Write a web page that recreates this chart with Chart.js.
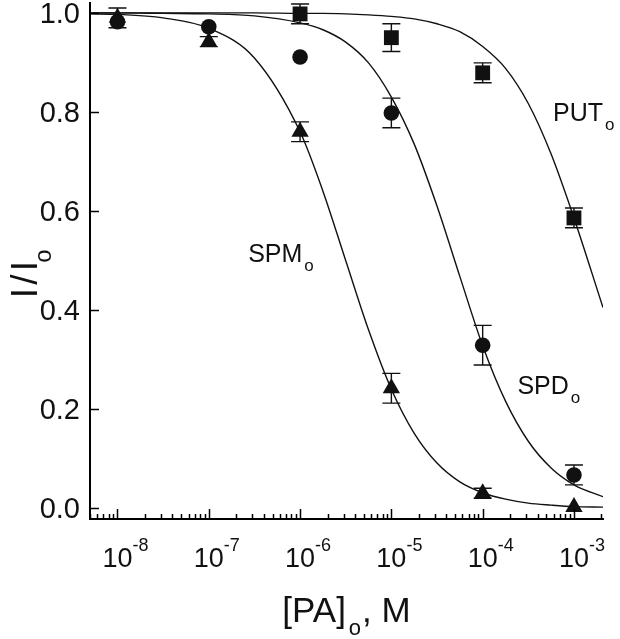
<!DOCTYPE html>
<html>
<head>
<meta charset="utf-8">
<script src="https://cdn.jsdelivr.net/npm/chart.js@4.4.0/dist/chart.umd.min.js"></script>
<style>
  html, body { margin: 0; padding: 0; background: #fff; }
</style>
</head>
<body>
<canvas id="myChart" width="620" height="639"></canvas>
<script>
// concentrations [PA]o (M)
var conc = [1e-8, 1e-7, 1e-6, 1e-5, 1e-4, 1e-3];
var putConc = [1e-6, 1e-5, 1e-4, 1e-3];

// measured I/Io with SEM
var spmVals = [0.990, 0.942, 0.760, 0.242, 0.030, 0.002];
var spmErr  = [0.020, 0.010, 0.020, 0.030, 0.010, 0];
var spdVals = [0.982, 0.972, 0.911, 0.798, 0.329, 0.067];
var spdErr  = [0, 0, 0, 0.030, 0.040, 0.020];
var putVals = [0.998, 0.950, 0.879, 0.586];
var putErr  = [0.020, 0.028, 0.020, 0.020];

// fitted curves
var curveX = [5e-9, 1e-8, 3.16e-8, 1e-7, 3.16e-7, 1e-6, 1.78e-6, 3.16e-6, 5.62e-6, 1e-5,
              1.78e-5, 3.16e-5, 5.62e-5, 1e-4, 1.78e-4, 3.16e-4, 5.62e-4, 1e-3, 2.08e-3];
var spmFit = [0.998, 0.997, 0.990, 0.969, 0.909, 0.760, 0.640, 0.500, 0.360, 0.240,
              0.151, 0.091, 0.053, 0.031, 0.018, 0.010, 0.006, 0.003, 0.002];
var spdFit = [1.000, 1.000, 0.999, 0.998, 0.994, 0.980, 0.966, 0.941, 0.899, 0.830,
              0.735, 0.610, 0.468, 0.328, 0.216, 0.135, 0.081, 0.047, 0.023];
var putFit = [1.000, 1.000, 1.000, 1.000, 1.000, 0.999, 0.999, 0.998, 0.996, 0.993,
              0.988, 0.978, 0.962, 0.932, 0.888, 0.817, 0.715, 0.586, 0.405];

// axis ticks
var yTicks = [0, 0.2, 0.4, 0.6, 0.8, 1.0];
var yTickLabels = ['0.0', '0.2', '0.4', '0.6', '0.8', '1.0'];
var xMajorExp = [-8, -7, -6, -5, -4, -3];

// labels on the curves
var curveLabels = [
  { text: 'SPM', x: 2.7e-7, y: 0.497 },
  { text: 'SPD', x: 2.4e-4, y: 0.230 },
  { text: 'PUT', x: 5.9e-4, y: 0.782 }
];

var FONT = 'Liberation Sans, Arial, Helvetica, sans-serif';
var INK = '#111';

function pts(xs, ys) {
  return xs.map(function(x, i) { return { x: x, y: ys[i] }; });
}

var decor = {
  id: 'decor',
  beforeDatasetsDraw: function(chart) {
    var ctx = chart.ctx, xs = chart.scales.x, ys = chart.scales.y;
    ctx.save();
    ctx.strokeStyle = INK;
    ctx.lineWidth = 1.4;
    [[conc, spmVals, spmErr], [conc, spdVals, spdErr], [putConc, putVals, putErr]].forEach(function(s) {
      s[0].forEach(function(c, i) {
        var e = s[2][i];
        if (!e) return;
        var px = xs.getPixelForValue(c);
        var y1 = ys.getPixelForValue(s[1][i] + e);
        var y2 = ys.getPixelForValue(s[1][i] - e);
        ctx.beginPath();
        ctx.moveTo(px, y1); ctx.lineTo(px, y2);
        ctx.moveTo(px - 9, y1); ctx.lineTo(px + 9, y1);
        ctx.moveTo(px - 9, y2); ctx.lineTo(px + 9, y2);
        ctx.stroke();
      });
    });
    ctx.restore();
  },
  afterDraw: function(chart) {
    var ctx = chart.ctx, xs = chart.scales.x, ys = chart.scales.y, a = chart.chartArea;
    ctx.save();
    ctx.strokeStyle = '#000';
    ctx.fillStyle = INK;

    // inward ticks on the log axis
    ctx.lineWidth = 1.5;
    for (var e = -9; e <= -3; e++) {
      for (var m = 1; m <= 9; m++) {
        var v = m * Math.pow(10, e);
        if (v < xs.min || v > xs.max) continue;
        var px = Math.round(xs.getPixelForValue(v)) + 0.5;
        ctx.beginPath();
        ctx.moveTo(px, a.bottom);
        ctx.lineTo(px, a.bottom - (m === 1 ? 10 : 5));
        ctx.stroke();
      }
    }
    // inward ticks and labels on y
    ctx.font = '29px ' + FONT;
    ctx.textAlign = 'right';
    ctx.textBaseline = 'middle';
    yTicks.forEach(function(t, i) {
      var py = Math.round(ys.getPixelForValue(t)) + 0.5;
      ctx.beginPath();
      ctx.moveTo(a.left, py);
      ctx.lineTo(a.left + 9, py);
      ctx.stroke();
      ctx.fillText(yTickLabels[i], a.left - 10, py + 1);
    });

    // x tick labels 10^n
    ctx.textBaseline = 'alphabetic';
    xMajorExp.forEach(function(n) {
      var px = xs.getPixelForValue(Math.pow(10, n));
      ctx.font = '27px ' + FONT;
      ctx.textAlign = 'center';
      var w = ctx.measureText('10').width;
      ctx.fillText('10', px, 567);
      ctx.font = '18px ' + FONT;
      ctx.textAlign = 'left';
      ctx.fillText('-' + Math.abs(n), px + w / 2, 551);
    });

    // x axis title: [PA]o, M
    ctx.textAlign = 'left';
    ctx.font = '35px ' + FONT;
    var w1 = ctx.measureText('[PA]').width;
    var w3 = ctx.measureText(', M').width;
    ctx.font = '22px ' + FONT;
    var w2 = ctx.measureText('o').width;
    var total = w1 + 3 + w2 + 1 + w3;
    var x0 = (a.left + a.right) / 2 - total / 2;
    ctx.font = '35px ' + FONT;
    ctx.fillText('[PA]', x0, 622);
    ctx.font = '22px ' + FONT;
    ctx.fillText('o', x0 + w1 + 3, 635);
    ctx.font = '35px ' + FONT;
    ctx.fillText(', M', x0 + w1 + 3 + w2 + 1, 622);

    // y axis title: I/Io (rotated)
    ctx.save();
    ctx.translate(37, 293);
    ctx.rotate(-Math.PI / 2);
    ctx.font = '37px ' + FONT;
    ctx.textAlign = 'center';
    ctx.fillText('I', 0, 0);
    ctx.fillText('/', 13.5, 0);
    ctx.fillText('I', 27, 0);
    ctx.font = '24px ' + FONT;
    ctx.fillText('o', 37, 14);
    ctx.restore();

    // curve labels with subscript o
    ctx.textAlign = 'left';
    curveLabels.forEach(function(l) {
      var lx = xs.getPixelForValue(l.x), ly = ys.getPixelForValue(l.y);
      ctx.font = '25px ' + FONT;
      var w = ctx.measureText(l.text).width;
      ctx.fillText(l.text, lx, ly);
      ctx.font = '17px ' + FONT;
      ctx.fillText('o', lx + w + 2, ly + 9);
    });
    ctx.restore();
  }
};

var ctx = document.getElementById('myChart').getContext('2d');
var myChart = new Chart(ctx, {
  type: 'scatter',
  data: {
    datasets: [
      { label: 'PUT', data: pts(putConc, putVals), pointStyle: 'rect', pointRadius: 10.5,
        backgroundColor: INK, borderColor: INK, borderWidth: 0 },
      { label: 'SPD', data: pts(conc, spdVals), pointStyle: 'circle', pointRadius: 7.8,
        backgroundColor: INK, borderColor: INK, borderWidth: 0 },
      { label: 'SPM', data: pts(conc, spmVals), pointStyle: 'triangle', pointRadius: 10,
        backgroundColor: INK, borderColor: INK, borderWidth: 0 },
      { label: 'SPM fit', data: pts(curveX, spmFit), showLine: true, pointRadius: 0,
        borderColor: INK, borderWidth: 1.4, cubicInterpolationMode: 'monotone', fill: false },
      { label: 'SPD fit', data: pts(curveX, spdFit), showLine: true, pointRadius: 0,
        borderColor: INK, borderWidth: 1.4, cubicInterpolationMode: 'monotone', fill: false },
      { label: 'PUT fit', data: pts(curveX, putFit), showLine: true, pointRadius: 0,
        borderColor: INK, borderWidth: 1.4, cubicInterpolationMode: 'monotone', fill: false }
    ]
  },
  options: {
    responsive: false,
    animation: false,
    events: [],
    layout: { autoPadding: false, padding: { top: 3, right: 17, left: 0, bottom: 0 } },
    plugins: { legend: { display: false }, tooltip: { enabled: false } },
    scales: {
      x: {
        type: 'logarithmic',
        min: 5e-9,
        max: 2.08e-3,
        grid: { display: false, drawTicks: false },
        border: { display: true, width: 2, color: '#000' },
        ticks: { display: false },
        afterFit: function(s) { s.height = 120; }
      },
      y: {
        min: -0.022,
        max: 1.02,
        grid: { display: false, drawTicks: false },
        border: { display: true, width: 2, color: '#000' },
        ticks: { display: false },
        afterFit: function(s) { s.width = 90; }
      }
    }
  },
  plugins: [decor]
});
</script>
</body>
</html>
